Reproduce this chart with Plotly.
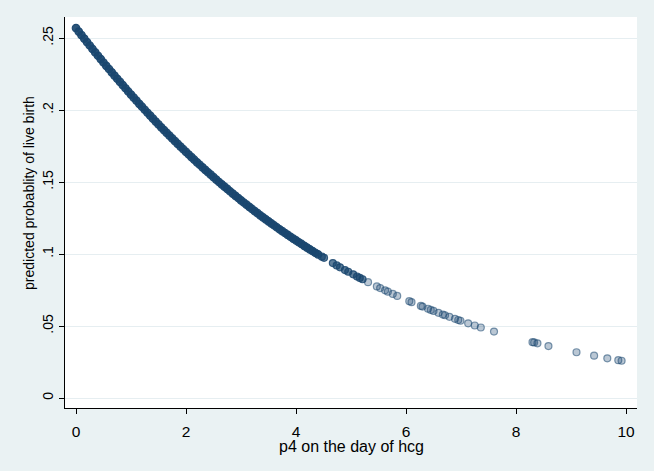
import plotly.graph_objects as go

# p4 on the day of hcg (dense part of the cloud)
p4_dense = [0.00, 0.05, 0.10, 0.15, 0.20, 0.25, 0.30, 0.35, 0.40, 0.45,
            0.50, 0.55, 0.60, 0.65, 0.70, 0.75, 0.80, 0.85, 0.90, 0.95,
            1.00, 1.05, 1.10, 1.15, 1.20, 1.25, 1.30, 1.35, 1.40, 1.45,
            1.50, 1.55, 1.60, 1.65, 1.70, 1.75, 1.80, 1.85, 1.90, 1.95,
            2.00, 2.05, 2.10, 2.15, 2.20, 2.25, 2.30, 2.35, 2.40, 2.45,
            2.50, 2.55, 2.60, 2.65, 2.70, 2.75, 2.80, 2.85, 2.90, 2.95,
            3.00, 3.05, 3.10, 3.15, 3.20, 3.25, 3.30, 3.35, 3.40, 3.45,
            3.50, 3.55, 3.60, 3.65, 3.70, 3.75, 3.80, 3.85, 3.90, 3.95,
            4.00, 4.05, 4.10, 4.15, 4.20, 4.25, 4.30, 4.35, 4.40]
prob_dense = [0.2569, 0.2545, 0.2520, 0.2496, 0.2472, 0.2448, 0.2424, 0.2400, 0.2377, 0.2354,
              0.2330, 0.2307, 0.2285, 0.2262, 0.2239, 0.2217, 0.2195, 0.2173, 0.2151, 0.2129,
              0.2107, 0.2086, 0.2065, 0.2043, 0.2023, 0.2002, 0.1981, 0.1961, 0.1940, 0.1920,
              0.1900, 0.1880, 0.1861, 0.1841, 0.1822, 0.1803, 0.1784, 0.1765, 0.1746, 0.1728,
              0.1709, 0.1691, 0.1673, 0.1655, 0.1637, 0.1620, 0.1602, 0.1585, 0.1568, 0.1551,
              0.1534, 0.1517, 0.1500, 0.1484, 0.1468, 0.1452, 0.1436, 0.1420, 0.1404, 0.1389,
              0.1373, 0.1358, 0.1343, 0.1328, 0.1313, 0.1298, 0.1284, 0.1269, 0.1255, 0.1241,
              0.1227, 0.1213, 0.1200, 0.1186, 0.1172, 0.1159, 0.1146, 0.1133, 0.1120, 0.1107,
              0.1095, 0.1082, 0.1070, 0.1057, 0.1045, 0.1033, 0.1021, 0.1009, 0.0998]

# sparse tail
p4_tail = [4.47, 4.51, 4.67, 4.74, 4.80, 4.89, 4.95, 5.04, 5.11, 5.16,
           5.21, 5.31, 5.47, 5.53, 5.62, 5.67, 5.76, 5.84, 6.06, 6.10,
           6.27, 6.30, 6.40, 6.45, 6.50, 6.59, 6.67, 6.71, 6.79, 6.89,
           6.95, 6.99, 7.13, 7.25, 7.36, 7.60, 8.30, 8.33, 8.39, 8.59,
           9.10, 9.42, 9.66, 9.86, 9.92]
prob_tail = [0.0982, 0.0974, 0.0937, 0.0921, 0.0908, 0.0889, 0.0877, 0.0859, 0.0844, 0.0834,
             0.0825, 0.0805, 0.0775, 0.0764, 0.0748, 0.0739, 0.0723, 0.0709, 0.0673, 0.0666,
             0.0640, 0.0635, 0.0620, 0.0612, 0.0605, 0.0592, 0.0580, 0.0575, 0.0564, 0.0550,
             0.0542, 0.0537, 0.0519, 0.0504, 0.0490, 0.0462, 0.0388, 0.0386, 0.0380, 0.0361,
             0.0318, 0.0294, 0.0276, 0.0263, 0.0259]

x_ticks = [0, 2, 4, 6, 8, 10]
y_ticks = [0, 0.05, 0.10, 0.15, 0.20, 0.25]
y_ticklabels = ["0", ".05", ".1", ".15", ".2", ".25"]

_NAVY = "26,71,111"
_FAM = "Liberation Sans, Arial, sans-serif"
_XFONT = dict(family=_FAM, size=15.5, color="#000000")
_YFONT = dict(family=_FAM, size=14, color="#000000")
_BG = "#eaf2f3"
_GRID = "#e6eef1"

# overlapping observations make the start of the tail look darker
tail_fill = [f"rgba({_NAVY},0.7)" if x < 5.25 else f"rgba({_NAVY},0.3)" for x in p4_tail]
tail_line = [f"rgba({_NAVY},0.85)" if x < 5.25 else f"rgba({_NAVY},0.55)" for x in p4_tail]

fig = go.Figure()
fig.add_trace(go.Scatter(
    x=p4_dense, y=prob_dense, mode="markers",
    marker=dict(size=7.5, color=f"rgba({_NAVY},0.92)", line=dict(color=f"rgba({_NAVY},0.95)", width=1.2)),
    showlegend=False, hoverinfo="skip",
))
fig.add_trace(go.Scatter(
    x=p4_tail, y=prob_tail, mode="markers",
    marker=dict(size=7, color=tail_fill, line=dict(color=tail_line, width=1.2)),
    showlegend=False, hoverinfo="skip",
))

fig.update_xaxes(
    range=[-0.2, 10.2], tickvals=x_ticks, showgrid=False, zeroline=False,
    showline=True, linecolor="#000000", linewidth=1, tickfont=_XFONT,
    ticks="outside", ticklen=5, tickcolor="#000000", ticklabelstandoff=4,
)
fig.update_yaxes(
    range=[-0.0069, 0.2646], tickvals=y_ticks, ticktext=y_ticklabels, tickangle=-90,
    showgrid=True, gridcolor=_GRID, gridwidth=1, zeroline=False,
    showline=True, linecolor="#000000", linewidth=1, tickfont=_YFONT,
    ticks="outside", ticklen=5, tickcolor="#000000", ticklabelstandoff=0,
)
fig.add_annotation(text="predicted probablity of live birth", xref="paper", yref="paper",
                   x=-0.063, y=0.55, xanchor="center", yanchor="middle", textangle=-90,
                   showarrow=False, font=_YFONT)
fig.add_annotation(text="p4 on the day of hcg", xref="paper", yref="paper",
                   x=0.5, y=-0.0997, xanchor="center", yanchor="middle", showarrow=False,
                   font=dict(family=_FAM, size=16, color="#000000"))

fig.update_layout(
    width=654, height=471, font=_XFONT,
    paper_bgcolor=_BG, plot_bgcolor="#ffffff",
    margin=dict(l=65, r=17, t=17, b=63),
    showlegend=False,
)
fig.write_html("out.html", config={"displayModeBar": False},
               post_script="document.body.style.margin='0';")
